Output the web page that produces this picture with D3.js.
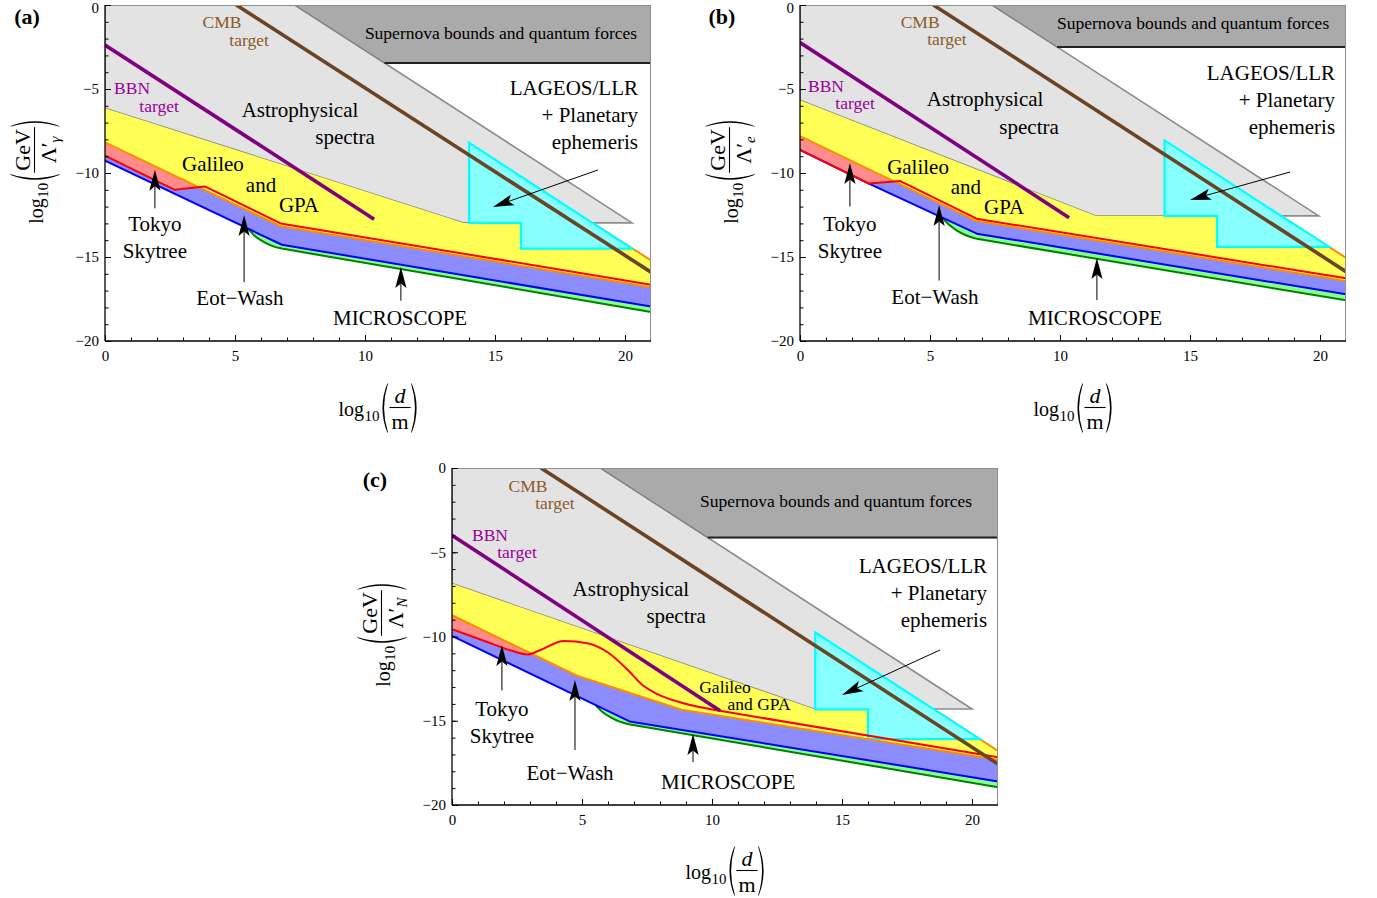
<!DOCTYPE html>
<html>
<head>
<meta charset="utf-8">
<script src="https://cdn.jsdelivr.net/npm/d3@7"></script>
<style>
body { margin: 0; background: #fff; }
svg { display: block; font-family: "Liberation Serif", "Times New Roman", serif; }
</style>
</head>
<body>
<script>
const xTicks = [0, 5, 10, 15, 20]
const yTicks = [0, -5, -10, -15, -20]
const yTickLabels = ["0", "\u22125", "\u221210", "\u221215", "\u221220"]

// (a) photon coupling  [log10 d, log10 GeV/Lambda]
const superA = [[7.3, 0], [21, 0], [21, -3.45], [10.75, -3.45]]
const astroA = [[0, 0], [7.3, 0], [20.27, -12.97], [13.8, -12.97], [0, -6.14]]
const galTopA = [[0, -6.14], [13.8, -12.97], [18.74, -12.97], [21, -15.2]]
const lageosA = [[14, -8.2], [20.27, -14.5], [16, -14.5], [16, -12.97], [14, -12.97]]
const orangeA = [[0, -8.18], [6.75, -13.17], [21, -16.8]]
const redA = [[0, -8.97], [2.68, -11.0], [3.84, -10.8], [6.75, -13.0], [21, -16.65]]
const blueA = [[0, -9.27], [6.8, -14.27], [21, -17.95]]
const greenBendA = [[5.5, -13.31], [5.8, -13.8], [6.1, -14.1], [6.45, -14.35], [6.8, -14.5]]
const greenA = [[6.8, -14.5], [21, -18.28]]
const bbnA = [[0, -2.38], [10.35, -12.75]]
const cmbA = [[5.05, 0], [21, -15.9]]

// (b) electron coupling
const superB = [[7.39, 0], [21, 0], [21, -2.5], [9.89, -2.5]]
const astroB = [[0, 0], [7.39, 0], [19.95, -12.55], [11.35, -12.55], [0, -5.67]]
const galTopB = [[0, -5.67], [11.35, -12.55], [18.5, -12.55], [21, -15.05]]
const lageosB = [[14.02, -8.06], [20.35, -14.4], [16.04, -14.4], [16.04, -12.55], [14.02, -12.55]]
const orangeB = [[0, -7.8], [6.79, -12.86], [21, -16.43]]
const redB = [[0, -8.63], [2.65, -10.63], [3.86, -10.48], [6.79, -12.72], [21, -16.27]]
const blueB = [[0, -8.63], [2.65, -10.63], [6.8, -13.61], [21, -17.22]]
const greenBendB = [[5.45, -12.64], [5.75, -13.1], [6.05, -13.45], [6.4, -13.72], [6.8, -13.92]]
const greenB = [[6.8, -13.92], [21, -17.58]]
const bbnB = [[0, -2.24], [10.35, -12.66]]
const cmbB = [[5.13, 0], [21, -15.87]]

// (c) nucleon coupling
const superC = [[5.71, 0], [21, 0], [21, -4.13], [9.84, -4.13]]
const astroC = [[0, 0], [5.71, 0], [20.0, -14.3], [13.92, -14.3], [0, -6.86]]
const galTopC = [[0, -6.86], [13.92, -14.3], [18.51, -14.3], [21, -16.79]]
const lageosC = [[13.97, -9.76], [20.3, -16.09], [16, -16.09], [16, -14.33], [13.97, -14.33]]
const orangeC = [[0, -8.74], [4.81, -12.33], [8.83, -14.35], [21, -17.31]]
const redBumpC = [[0, -9.57], [1.3, -10.3], [2.3, -10.85], [2.9, -11.07], [3.4, -10.8], [4.3, -10.26],
  [5.2, -10.4], [6.0, -10.95], [6.8, -12.05], [7.3, -12.85], [7.9, -13.42], [8.8, -13.92], [10.3, -14.41]]
const redC = [[10.3, -14.41], [21, -17.17]]
const blueC = [[0, -9.96], [6.83, -15.04], [21, -18.6]]
const greenBendC = [[5.52, -14.07], [5.8, -14.5], [6.1, -14.8], [6.45, -15.05], [6.85, -15.22]]
const greenC = [[6.85, -15.22], [21, -18.95]]
const bbnC = [[0, -3.99], [10.31, -14.41]]
const cmbC = [[3.42, 0], [21, -17.57]]

const brownText = "#8b5a2b", purpleText = "#990099"

const svg = d3.select("body").append("svg")
    .attr("width", 1377)
    .attr("height", 898)

function paren(x0, top, bot, right) {
    const mid = (top + bot) / 2
    if (!right) {
        return `M${x0 + 7},${top} Q${x0 - 3},${mid} ${x0 + 7},${bot} L${x0 + 7.4},${bot - 1} Q${x0 - 0.2},${mid} ${x0 + 7.4},${top + 1}Z`
    }
    return `M${x0},${top} Q${x0 + 10},${mid} ${x0},${bot} L${x0 - 0.4},${bot - 1} Q${x0 + 7.2},${mid} ${x0 - 0.4},${top + 1}Z`
}

// log10( num / den ) typeset by hand
function mathLabel(tx, ty, rot, num, numItalic, den, sub) {
    const outer = svg.append("g").attr("transform", `translate(${tx},${ty}) rotate(${rot})`)
    const g = outer.append("g")
    const t1 = g.append("text").attr("font-size", 20).text("log")
    let cur = t1.node().getComputedTextLength() + 0.5
    const t2 = g.append("text").attr("x", cur).attr("y", 5).attr("font-size", 15).text("10")
    cur += t2.node().getComputedTextLength() + 1
    g.append("path").attr("d", paren(cur, -33, 17, false))
    cur += 9
    const nt = g.append("text").attr("font-size", 22).attr("y", -13.5).attr("text-anchor", "middle")
        .attr("font-style", numItalic ? "italic" : null).text(num)
    const dt = g.append("text").attr("font-size", 22).attr("y", 13).attr("text-anchor", "middle")
    dt.append("tspan").text(den)
    if (sub) dt.append("tspan").attr("font-size", 15).attr("font-style", "italic").attr("dy", 4).text(sub)
    const fw = Math.max(nt.node().getComputedTextLength(), dt.node().getComputedTextLength()) + 4
    nt.attr("x", cur + fw / 2)
    dt.attr("x", cur + fw / 2)
    g.append("line").attr("x1", cur).attr("x2", cur + fw).attr("y1", -8.5).attr("y2", -8.5)
        .attr("stroke", "#000").attr("stroke-width", 1.1)
    cur += fw + 1
    g.append("path").attr("d", paren(cur, -33, 17, true))
    cur += 8
    g.attr("transform", `translate(${-cur / 2},0)`)
}

function drawPanel(p) {
    const pw = 546
    const g = svg.append("g").attr("transform", `translate(${p.left},${p.top})`)
    const x = d3.scaleLinear().domain([0, 21]).range([0, pw])
    const y = d3.scaleLinear().domain([-20, 0]).range([p.h, 0])
    const gen = c => d3.line().x(d => x(d[0])).y(d => y(d[1])).curve(c)
    const lin = gen(d3.curveLinear)
    const join = segs => segs.map((s, i) => {
        const str = gen(s[1])(s[0])
        return i ? str.replace(/^M/, "L") : str
    }).join("")
    const band = (segs, back) => join(segs) + lin(back.slice().reverse()).replace(/^M/, "L") + "Z"

    g.append("clipPath").attr("id", "clip" + p.id)
        .append("rect").attr("width", pw).attr("height", p.h)
    const plot = g.append("g").attr("clip-path", `url(#clip${p.id})`)

    // astrophysical spectra
    plot.append("path").attr("d", lin(p.astro) + "Z")
        .attr("fill", "#e3e3e3").attr("stroke", "#8c8c8c").attr("stroke-width", 1.6)
    // supernova bounds
    plot.append("path").attr("d", lin(p.sup) + "Z")
        .attr("fill", "#aaaaaa").attr("stroke", "#7f7f7f").attr("stroke-width", 1.2)
    plot.append("path").attr("d", lin([p.sup[3], p.sup[2]]))
        .attr("stroke", "#222").attr("stroke-width", 2).attr("fill", "none")

    // Eot-Wash / Tokyo Skytree / Galileo bands
    plot.append("path").attr("d", band(p.red, p.blue)).attr("fill", "#8c8cff")
    plot.append("path").attr("d", band(p.red, p.orange)).attr("fill", "#ff8c8c")
    plot.append("path").attr("d", band([[p.galTop, d3.curveLinear]], p.orange)).attr("fill", "#ffff55")
    // MICROSCOPE
    const x0 = p.greenBend[0][0]
    plot.append("path")
        .attr("d", band([[p.greenBend, d3.curveMonotoneX], [p.green, d3.curveLinear]], p.blue.filter(d => d[0] > x0)))
        .attr("fill", "#88ff88")

    plot.append("path").attr("d", lin(p.galTop.slice(2)))
        .attr("fill", "none").attr("stroke", "#ff8c00").attr("stroke-width", 2)
    // LAGEOS / LLR
    plot.append("path").attr("d", lin(p.lageos) + "Z")
        .attr("fill", "#88ffff").attr("stroke", "#00ffff").attr("stroke-width", 2.2)

    const stroke = (d, color, w) => plot.append("path").attr("d", d)
        .attr("fill", "none").attr("stroke", color).attr("stroke-width", w).attr("stroke-linejoin", "round")
    stroke(join([[p.greenBend, d3.curveMonotoneX], [p.green, d3.curveLinear]]), "#008000", 2)
    stroke(lin(p.blue), "#0000ff", 2)
    stroke(lin(p.orange), "#ff8c00", 2)
    stroke(join(p.red), "#ff0000", 2)
    stroke(lin(p.bbn), "#800080", 3.6)
    stroke(lin(p.cmb), "#6b4423", 3.6)

    // frame
    g.append("line").attr("x1", 0).attr("x2", pw).attr("y1", 0.5).attr("y2", 0.5).attr("stroke", "#8f8f8f")
    g.append("line").attr("x1", pw - 0.5).attr("x2", pw - 0.5).attr("y1", 0).attr("y2", p.h).attr("stroke", "#8f8f8f")
    g.append("line").attr("x1", 0).attr("x2", 0).attr("y1", 0).attr("y2", p.h).attr("stroke", "#000").attr("stroke-width", 1.3)
    g.append("line").attr("x1", 0).attr("x2", pw).attr("y1", p.h).attr("y2", p.h).attr("stroke", "#000").attr("stroke-width", 1.3)

    // ticks
    const minorX = g.append("g").attr("transform", `translate(0,${p.h})`)
        .call(d3.axisBottom(x).tickValues(d3.range(0, 21)).tickSize(-3.5).tickFormat(""))
    const majorX = g.append("g").attr("transform", `translate(0,${p.h})`)
        .call(d3.axisBottom(x).tickValues(xTicks).tickSize(-6).tickPadding(9).tickFormat(d3.format("d")))
    const minorY = g.append("g")
        .call(d3.axisLeft(y).tickValues(d3.range(-20, 1)).tickSize(-3.5).tickFormat(""))
    const majorY = g.append("g")
        .call(d3.axisLeft(y).tickValues(yTicks).tickSize(-6).tickPadding(6).tickFormat((d, i) => yTickLabels[i]))
    for (const a of [minorX, majorX, minorY, majorY]) {
        a.select(".domain").remove()
        a.selectAll("line").attr("stroke", "#000")
        a.selectAll("text").attr("font-family", "Liberation Serif").attr("font-size", 15).attr("fill", "#000")
    }
    if (p.top < 8) majorY.selectAll("text").filter(d => d === 0).attr("dy", "0.5em")

    // annotations
    for (const t of p.labels) {
        g.append("text")
            .attr("x", x(t[1])).attr("y", y(t[2]))
            .attr("font-size", t[3]).attr("fill", t[4] || "#000")
            .attr("text-anchor", t[5] || "middle")
            .attr("dominant-baseline", "central")
            .text(t[0])
    }
    for (const a of p.arrows) {
        const x1 = x(a[0]), y1 = y(a[1]), x2 = x(a[2]), y2 = y(a[3])
        const ang = Math.atan2(y2 - y1, x2 - x1)
        const L = 21, hw = 5.6, notch = 4.5
        const ux = Math.cos(ang), uy = Math.sin(ang)
        g.append("line").attr("x1", x1).attr("y1", y1)
            .attr("x2", x2 - ux * (L - notch)).attr("y2", y2 - uy * (L - notch))
            .attr("stroke", "#000").attr("stroke-width", 1)
        const bx = x2 - ux * L, by = y2 - uy * L
        g.append("path")
            .attr("d", `M${x2},${y2} L${bx - uy * hw},${by + ux * hw} L${x2 - ux * (L - notch)},${y2 - uy * (L - notch)} L${bx + uy * hw},${by - ux * hw}Z`)
            .attr("fill", "#000")
    }

    svg.append("text").attr("x", p.tag[0]).attr("y", p.tag[1])
        .attr("font-size", 22).attr("font-weight", "bold").attr("text-anchor", "middle").text(p.tag[2])
}

const big = 21, small = 17.5

drawPanel({
    id: "a", left: 105, top: 5, h: 336, tag: [27, 24, "(a)"],
    sup: superA, astro: astroA, galTop: galTopA, lageos: lageosA, orange: orangeA,
    red: [[redA, d3.curveLinear]], blue: blueA, greenBend: greenBendA, green: greenA, bbn: bbnA, cmb: cmbA,
    labels: [
        ["CMB", 4.5, -1.0, small, brownText], ["target", 5.54, -2.08, small, brownText],
        ["BBN", 1.04, -4.94, small, purpleText], ["target", 2.08, -6.01, small, purpleText],
        ["Supernova bounds and quantum forces", 15.23, -1.67, small],
        ["Astrophysical", 7.5, -6.25, big], ["spectra", 9.23, -7.86, big],
        ["LAGEOS/LLR", 20.5, -4.94, big, null, "end"], ["+ Planetary", 20.5, -6.55, big, null, "end"],
        ["ephemeris", 20.5, -8.15, big, null, "end"],
        ["Galileo", 4.15, -9.46, big], ["and", 6.0, -10.71, big], ["GPA", 7.46, -11.9, big],
        ["Tokyo", 1.92, -13.04, big], ["Skytree", 1.92, -14.64, big],
        ["Eot\u2212Wash", 5.19, -17.44, big], ["MICROSCOPE", 11.35, -18.63, big]
    ],
    arrows: [[1.92, -12.1, 1.92, -9.8], [5.35, -16.5, 5.35, -12.5], [11.38, -17.6, 11.38, -15.6],
        [18.96, -9.82, 14.92, -12.02]]
})

drawPanel({
    id: "b", left: 800, top: 5, h: 336, tag: [722, 24, "(b)"],
    sup: superB, astro: astroB, galTop: galTopB, lageos: lageosB, orange: orangeB,
    red: [[redB, d3.curveLinear]], blue: blueB, greenBend: greenBendB, green: greenB, bbn: bbnB, cmb: cmbB,
    labels: [
        ["CMB", 4.62, -1.01, small, brownText], ["target", 5.65, -2.02, small, brownText],
        ["BBN", 1.0, -4.82, small, purpleText], ["target", 2.12, -5.83, small, purpleText],
        ["Supernova bounds and quantum forces", 15.12, -1.07, small],
        ["Astrophysical", 7.12, -5.6, big], ["spectra", 8.81, -7.26, big],
        ["LAGEOS/LLR", 20.58, -4.05, big, null, "end"], ["+ Planetary", 20.58, -5.65, big, null, "end"],
        ["ephemeris", 20.58, -7.26, big, null, "end"],
        ["Galileo", 4.54, -9.64, big], ["and", 6.38, -10.83, big], ["GPA", 7.85, -12.02, big],
        ["Tokyo", 1.92, -13.04, big], ["Skytree", 1.92, -14.64, big],
        ["Eot\u2212Wash", 5.19, -17.38, big], ["MICROSCOPE", 11.35, -18.63, big]
    ],
    arrows: [[1.92, -12.0, 1.92, -9.4], [5.35, -16.4, 5.35, -11.9], [11.42, -17.56, 11.42, -15.06],
        [18.85, -9.94, 15.0, -11.6]]
})

drawPanel({
    id: "c", left: 452, top: 468, h: 337, tag: [375, 487, "(c)"],
    sup: superC, astro: astroC, galTop: galTopC, lageos: lageosC, orange: orangeC,
    red: [[redBumpC, d3.curveMonotoneX], [redC, d3.curveLinear]], blue: blueC,
    greenBend: greenBendC, green: greenC, bbn: bbnC, cmb: cmbC,
    labels: [
        ["CMB", 2.92, -1.07, small, brownText], ["target", 3.96, -2.08, small, brownText],
        ["BBN", 1.46, -3.98, small, purpleText], ["target", 2.5, -4.99, small, purpleText],
        ["Supernova bounds and quantum forces", 14.77, -1.96, small],
        ["Astrophysical", 6.88, -7.18, big], ["spectra", 8.62, -8.78, big],
        ["LAGEOS/LLR", 20.58, -5.82, big, null, "end"], ["+ Planetary", 20.58, -7.42, big, null, "end"],
        ["ephemeris", 20.58, -9.02, big, null, "end"],
        ["Galileo", 10.5, -13.0, small], ["and GPA", 11.81, -14.0, small],
        ["Tokyo", 1.92, -14.3, big], ["Skytree", 1.92, -15.9, big],
        ["Eot\u2212Wash", 4.54, -18.1, big], ["MICROSCOPE", 10.62, -18.63, big]
    ],
    arrows: [[1.92, -13.2, 1.92, -10.5], [4.73, -16.74, 4.73, -12.58], [9.27, -17.45, 9.27, -15.79],
        [18.77, -10.8, 15.0, -13.47]]
})

mathLabel(43, 171, -90, "GeV", false, "\u039b\u2032", "\u03b3")
mathLabel(379, 416, 0, "d", true, "m", null)
mathLabel(738, 171, -90, "GeV", false, "\u039b\u2032", "e")
mathLabel(1074, 416, 0, "d", true, "m", null)
mathLabel(390, 634, -90, "GeV", false, "\u039b\u2032", "N")
mathLabel(726, 879, 0, "d", true, "m", null)
</script>
</body>
</html>
